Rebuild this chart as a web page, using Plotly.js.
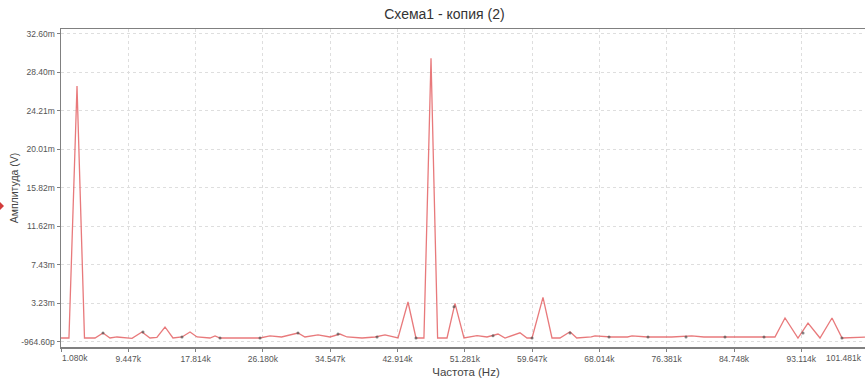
<!DOCTYPE html>
<html>
<head>
<meta charset="utf-8">
<script src="https://cdn.plot.ly/plotly-3.0.1.min.js"></script>
<style>
html,body{margin:0;padding:0;overflow:hidden;background:#fff;}
#chart{width:880px;height:378px;}
</style>
</head>
<body>
<div id="chart"></div>
<script>
// Frequency (kHz) and amplitude (mV) of the spectrum line
const freqKHz = [1.08, 2.07, 3.07, 4.00, 5.31, 6.30, 7.17, 8.04, 9.91, 11.15, 12.14, 13.0, 14.01, 15.00, 16.12, 17.12, 17.99,
  19.60, 20.23, 20.85, 23.0, 25.82, 27.06, 28.5, 30.54, 31.41, 33.03, 34.52, 35.76, 36.64, 38.5, 40.12, 41.36, 42.98,
  44.22, 45.21, 46.2, 47.08, 47.9, 49.07, 50.06, 51.18, 52.80, 54.04, 55.41, 56.28, 58.14, 59.01, 59.64, 61.00, 62.12,
  63.11, 64.36, 65.2, 67.0, 67.47, 69.5, 71.5, 72.07, 74.0, 77.0, 79.5, 81.0, 84.5, 86.0, 89.84, 91.09, 92.70, 93.95,
  95.44, 96.93, 98.18, 101.8];
const ampMV = [-0.56, -0.56, 26.90, -0.56, -0.56, -0.02, -0.56, -0.45, -0.60, 0.09, -0.56, -0.50, 0.64, -0.56, -0.45, 0.09, -0.45,
  -0.56, -0.34, -0.56, -0.56, -0.56, -0.34, -0.45, -0.02, -0.45, -0.23, -0.45, -0.13, -0.45, -0.56, -0.45, -0.23, -0.56,
  3.36, -0.56, -0.56, 29.92, -0.56, -0.56, 3.22, -0.56, -0.30, -0.45, -0.13, -0.56, 0.00, -0.56, -0.56, 3.87, -0.56,
  -0.56, 0.12, -0.56, -0.45, -0.34, -0.45, -0.45, -0.34, -0.45, -0.45, -0.34, -0.45, -0.45, -0.40, -0.45, 1.62, -0.56, 1.07,
  -0.56, 1.62, -0.56, -0.45];

// Small dark data markers drawn along the line
const markFreqKHz = [6.30, 11.27, 16.12, 20.85, 25.82, 30.54, 35.52, 40.37, 45.21, 49.94, 54.79, 59.64, 64.36, 69.21,
  74.06, 78.78, 83.63, 88.48, 93.33, 98.17];
const markAmpMV = [-0.02, 0.09, -0.45, -0.56, -0.56, -0.02, -0.13, -0.45, -0.56, 2.85, -0.31, -0.56, -0.02, -0.45,
  -0.45, -0.45, -0.45, -0.45, -0.02, -0.56];

// Axis ticks
const xTickVals = [1.080, 9.447, 17.814, 26.180, 34.547, 42.914, 51.281, 59.647, 68.014, 76.381, 84.748, 93.114, 101.481];
const xTickText = ['1.080k', '9.447k', '17.814k', '26.180k', '34.547k', '42.914k', '51.281k', '59.647k', '68.014k',
  '76.381k', '84.748k', '93.114k', '101.481k'];
const yTickVals = [-0.9646, 3.23, 7.43, 11.62, 15.82, 20.01, 24.21, 28.40, 32.60];
const yTickText = ['-964.60p', '3.23m', '7.43m', '11.62m', '15.82m', '20.01m', '24.21m', '28.40m', '32.60m'];

const titleText = 'Схема1 - копия (2)';
const xTitle = 'Частота (Hz)';
const yTitle = 'Амплитуда (V)';

const lastIdx = xTickText.length - 1;
const xTickTextShown = xTickText.map((t, i) => (i === 0 || i === lastIdx) ? '' : t);
const FAM = 'Liberation Sans, Arial, sans-serif';
const tickFont = {family: FAM, size: 8.5, color: '#555'};

const traces = [
  {
    x: freqKHz, y: ampMV, type: 'scatter', mode: 'lines',
    line: {color: 'rgba(228,98,100,0.85)', width: 1.3},
    hoverinfo: 'skip'
  },
  {
    x: markFreqKHz, y: markAmpMV, type: 'scatter', mode: 'markers',
    marker: {color: 'rgba(80,80,80,0.7)', size: 3},
    hoverinfo: 'skip'
  }
];

const layout = {
  width: 880, height: 378,
  margin: {l: 61, r: 9, t: 29, b: 31},
  paper_bgcolor: '#fff', plot_bgcolor: '#fff',
  showlegend: false,
  font: {family: FAM, size: 9, color: '#444'},
  title: {text: titleText, x: 0.505, xanchor: 'center', y: 0.962, yanchor: 'middle',
    font: {family: FAM, size: 14, color: '#333'}},
  xaxis: {
    range: [1.080, 101.78], tickmode: 'array', tickvals: xTickVals, ticktext: xTickTextShown,
    showgrid: true, gridcolor: '#dedede', griddash: 'dot', gridwidth: 1,
    zeroline: false, showline: true, linecolor: '#808080', linewidth: 1.5, mirror: true,
    ticks: 'outside', ticklen: 3, tickcolor: '#808080',
    tickfont: tickFont,
    title: {text: xTitle, standoff: 5, font: {family: FAM, size: 11.5, color: '#444'}}
  },
  yaxis: {
    range: [-1.542, 33.11], tickmode: 'array', tickvals: yTickVals, ticktext: yTickText,
    showgrid: true, gridcolor: '#dedede', griddash: 'dot', gridwidth: 1,
    zeroline: false, showline: true, linecolor: '#808080', linewidth: 1.5, mirror: true,
    ticks: 'outside', ticklen: 3, tickcolor: '#808080',
    tickfont: tickFont,
    title: {text: yTitle, standoff: 0, font: {family: FAM, size: 10.5, color: '#444'}}
  },
  annotations: [
    {x: xTickVals[0], y: 0, xref: 'x', yref: 'paper', text: xTickText[0], showarrow: false,
     xanchor: 'left', yanchor: 'top', xshift: -1, yshift: -4, font: tickFont},
    {x: xTickVals[lastIdx], y: 0, xref: 'x', yref: 'paper', text: xTickText[lastIdx], showarrow: false,
     xanchor: 'right', yanchor: 'top', xshift: -5, yshift: -4, font: tickFont}
  ],
  shapes: [
    {type: 'path', xref: 'paper', yref: 'paper',
     path: 'M -0.0753 0.4560 L -0.0704 0.4434 L -0.0753 0.4308 Z',
     fillcolor: '#d23a3a', line: {width: 0}}
  ]
};

Plotly.newPlot('chart', traces, layout, {displayModeBar: false, staticPlot: true});
</script>
</body>
</html>
